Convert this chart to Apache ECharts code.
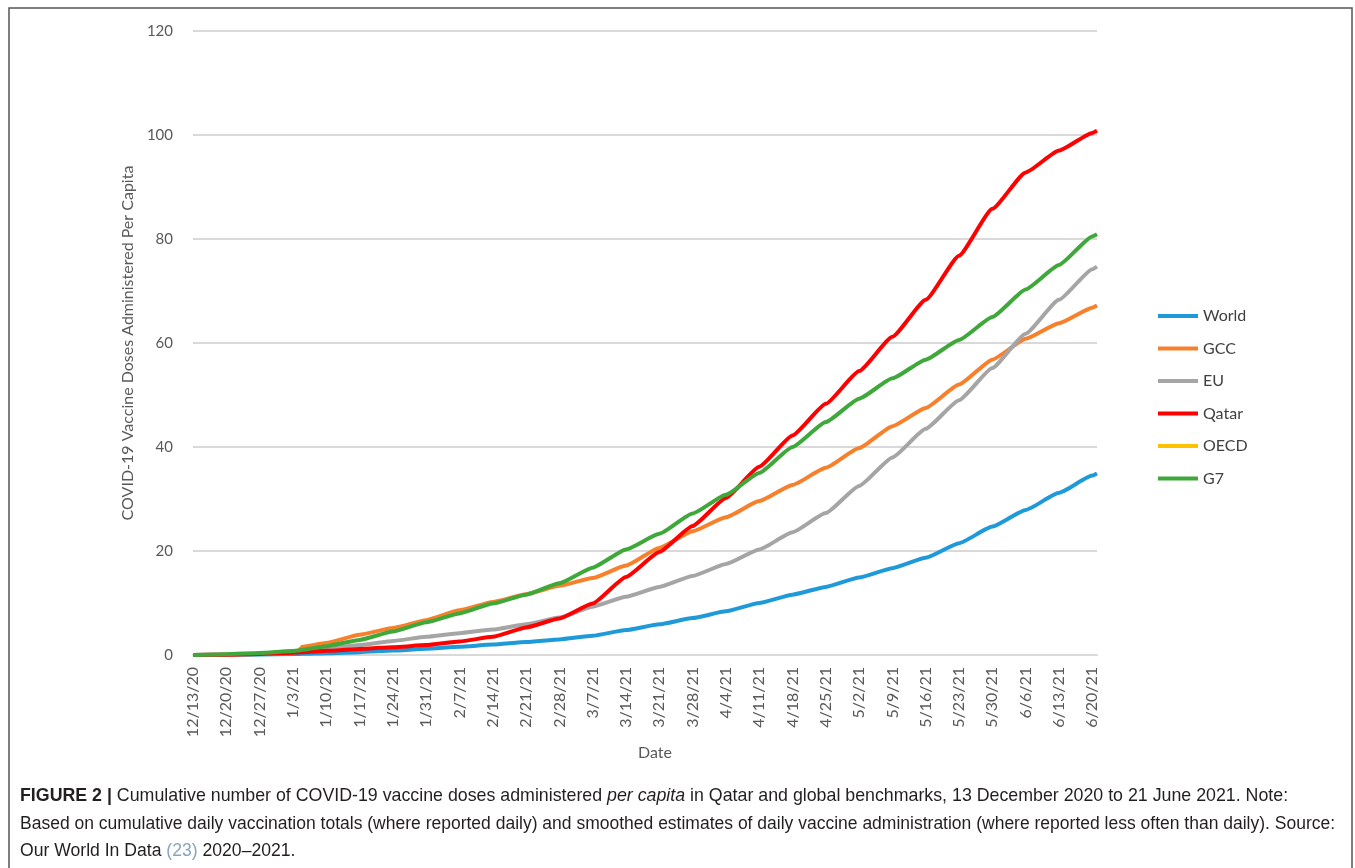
<!DOCTYPE html>
<html>
<head>
<meta charset="utf-8">
<script src="https://cdn.jsdelivr.net/npm/echarts@6/dist/echarts.min.js"></script>
<style>
html,body{margin:0;padding:0;background:#fff;}
#chart{width:1355px;height:868px;}
</style>
</head>
<body>
<div id="chart"></div>
<script>
// Days since 12/13/2020
const days = [0,7,14,21,22,23,28,35,42,49,56,63,70,77,84,91,98,105,112,119,126,133,140,147,154,161,168,175,182,189,190];
const world = [0,0.02,0.08,0.18,0.2,0.22,0.35,0.55,0.85,1.2,1.6,2.0,2.5,3.0,3.7,4.8,5.9,7.1,8.4,10.0,11.6,13.1,14.9,16.7,18.7,21.5,24.7,27.9,31.2,34.5,34.9];
const gcc = [null,0.05,0.25,0.5,0.6,1.6,2.3,3.9,5.2,6.7,8.6,10.2,11.7,13.3,14.8,17.2,20.6,23.8,26.5,29.6,32.7,36.0,39.8,44.0,47.5,52.0,56.8,60.8,63.8,66.8,67.2];
const eu = [0,0.05,0.25,0.7,0.75,0.8,1.3,1.9,2.7,3.5,4.2,4.9,5.9,7.2,9.3,11.2,13.1,15.2,17.5,20.3,23.6,27.3,32.5,38.0,43.5,49.0,55.2,61.8,68.3,74.2,74.7];
const qatar = [0,0.05,0.2,0.45,0.5,0.55,0.8,1.15,1.5,1.9,2.6,3.5,5.3,7.0,9.9,15.0,19.8,24.8,30.2,36.2,42.2,48.3,54.6,61.2,68.3,76.8,85.8,92.8,97.0,100.4,100.8];
const oecd = [];
const g7 = [0,0.15,0.4,0.75,0.85,1.0,1.7,2.9,4.5,6.3,8.0,9.9,11.6,13.8,16.8,20.3,23.3,27.2,30.8,35.0,40.0,44.8,49.3,53.2,56.8,60.6,65.0,70.3,75.0,80.5,80.9];
const tickLabels = ['12/13/20','12/20/20','12/27/20','1/3/21','1/10/21','1/17/21','1/24/21','1/31/21','2/7/21','2/14/21','2/21/21','2/28/21','3/7/21','3/14/21','3/21/21','3/28/21','4/4/21','4/11/21','4/18/21','4/25/21','5/2/21','5/9/21','5/16/21','5/23/21','5/30/21','6/6/21','6/13/21','6/20/21'];
const seriesNames = ['World','GCC','EU','Qatar','OECD','G7'];
const seriesValues = [world, gcc, eu, qatar, oecd, g7];
const colors = ['#1F9AD9','#F7802C','#A5A5A5','#FF0000','#FFC000','#3FA83A'];

const FONT = 'Lato, "Open Sans", sans-serif';
const CAP = '"Liberation Sans", Arial, sans-serif';
const chart = echarts.init(document.getElementById('chart'));

function pairs(vals){
  const out = [];
  vals.forEach((v,i)=>{ if(v!==null && v!==undefined) out.push([days[i], v]); });
  return out;
}

const series = seriesNames.map((n,i)=>({
  name: n,
  type: 'line',
  data: pairs(seriesValues[i]),
  showSymbol: false,
  symbol: 'none',
  smooth: 0.15,
  smoothMonotone: 'x',
  lineStyle: {width: 4, color: colors[i]},
  itemStyle: {color: colors[i]},
  z: 2 + i
}));

chart.setOption({
  animation: false,
  backgroundColor: '#fff',
  grid: {left: 193, right: 258, top: 31, bottom: 213, containLabel: false},
  legend: {
    orient: 'vertical',
    left: 1153,
    top: 303,
    icon: 'rect',
    itemWidth: 40,
    itemHeight: 4,
    itemGap: 16.5,
    data: seriesNames,
    textStyle: {fontFamily: FONT, fontSize: 16, color: '#404040', lineHeight: 16}
  },
  xAxis: {
    type: 'value',
    min: 0,
    max: 190,
    interval: 7,
    name: 'Date',
    nameLocation: 'middle',
    nameGap: 87,
    nameTextStyle: {fontFamily: FONT, fontSize: 16, color: '#595959', padding: [0,0,0,20]},
    axisLine: {show: true, lineStyle: {color: '#d9d9d9', width: 2}},
    axisTick: {show: false},
    splitLine: {show: false},
    axisLabel: {
      rotate: 90,
      margin: 12,
      fontFamily: FONT,
      fontSize: 16,
      color: '#595959',
      showMaxLabel: false,
      formatter: function(v){ const k = v/7; return Number.isInteger(k) && tickLabels[k] ? tickLabels[k] : ''; }
    }
  },
  yAxis: {
    type: 'value',
    min: 0,
    max: 120,
    interval: 20,
    name: 'COVID-19 Vaccine Doses Administered Per Capita',
    nameLocation: 'middle',
    nameRotate: 90,
    nameGap: 50,
    nameTextStyle: {fontFamily: FONT, fontSize: 16, color: '#595959'},
    axisLine: {show: false},
    axisTick: {show: false},
    axisLabel: {margin: 20, fontFamily: FONT, fontSize: 15, color: '#595959'},
    splitLine: {show: true, lineStyle: {color: '#d9d9d9', width: 2}}
  },
  graphic: [
    {type: 'rect', silent: true, z: 0, shape: {x: 9, y: 8, width: 1343, height: 880},
     style: {fill: 'none', stroke: '#555', lineWidth: 1.5}},
    {type: 'text', left: 20, top: 787, silent: true,
     style: {text: '{b|FIGURE 2 |} Cumulative number of COVID-19 vaccine doses administered {i|per capita} in Qatar and global benchmarks, 13 December 2020 to 21 June 2021. Note:',
       font: '17.8px ' + CAP, fill: '#231f20',
       rich: {b: {fontWeight: 'bold', fontFamily: CAP, fontSize: 17.8, fill: '#231f20'},
              i: {fontStyle: 'italic', fontFamily: CAP, fontSize: 17.8, fill: '#231f20'}}}},
    {type: 'text', left: 20, top: 815, silent: true,
     style: {text: 'Based on cumulative daily vaccination totals (where reported daily) and smoothed estimates of daily vaccine administration (where reported less often than daily). Source:',
       font: '17.5px ' + CAP, fill: '#231f20'}},
    {type: 'text', left: 20, top: 842, silent: true,
     style: {text: 'Our World In Data {c|(23)} 2020\u20132021.',
       font: '17.6px ' + CAP, fill: '#231f20',
       rich: {c: {fontFamily: CAP, fontSize: 17.6, fill: '#8aa4bd'}}}}
  ],
  series: series
});
</script>
</body>
</html>
